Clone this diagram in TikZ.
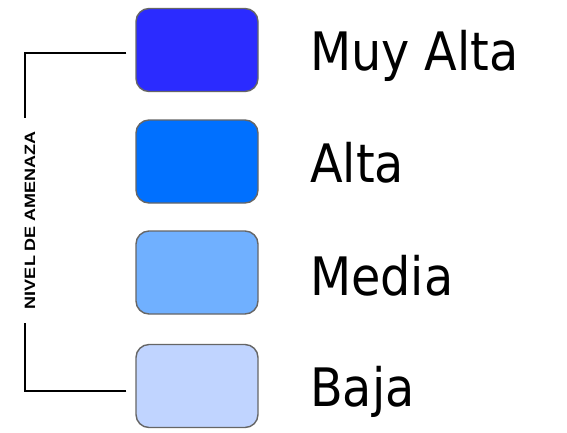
\documentclass[tikz,border=0pt]{standalone}
\usepackage{fontspec}
\setmainfont{DejaVu Sans Condensed}
\newfontfamily\axisfont{Liberation Sans}
\definecolor{lvlA}{HTML}{2B2BFF}
\definecolor{lvlB}{HTML}{0070FF}
\definecolor{lvlC}{HTML}{70B0FF}
\definecolor{lvlD}{HTML}{C0D4FF}
\definecolor{rim}{HTML}{666666}
\tikzset{
  swatch/.style={draw=rim, line width=1.4pt, rounded corners=13pt,
    minimum width=122pt, minimum height=83pt, inner sep=0pt},
  levellabel/.style={anchor=base west, inner sep=0pt,
    font=\fontsize{53}{60}\selectfont},
  bracket/.style={draw=black, line width=1.6pt}
}
\begin{document}
\begin{tikzpicture}[x=1pt, y=-1pt]
  \useasboundingbox (0,0) rectangle (567,432);
  \fill[white] (0,0) rectangle (567,432);

  % colour swatches
  \node[swatch, fill=lvlA] (b1) at (197,50) {};
  \node[swatch, fill=lvlB] (b2) at (197,161.5) {};
  \node[swatch, fill=lvlC] (b3) at (197,272.5) {};
  \node[swatch, fill=lvlD] (b4) at (197,386) {};

  % level names
  \node[levellabel] (t1) at (310,70) {Muy Alta};
  \node[levellabel] (t2) at (310,182.5) {Alta};
  \node[levellabel] (t3) at (310,295) {Media};
  \node[levellabel] (t4) at (310,406.5) {Baja};

  % axis caption
  \node[rotate=90, inner sep=0pt] (axis) at (30,220)
    {\scalebox{1.2}[1]{\axisfont\bfseries\fontsize{15}{16}\selectfont NIVEL DE AMENAZA}};

  % bracket joining the top and bottom swatches
  \coordinate (topend) at (25,118);
  \coordinate (botend) at (25,323);
  \draw[bracket] ([shift={(-9pt,-3pt)}]b1.west) -| (topend);
  \draw[bracket] ([shift={(-9pt,-5pt)}]b4.west) -| (botend);
\end{tikzpicture}
\end{document}
